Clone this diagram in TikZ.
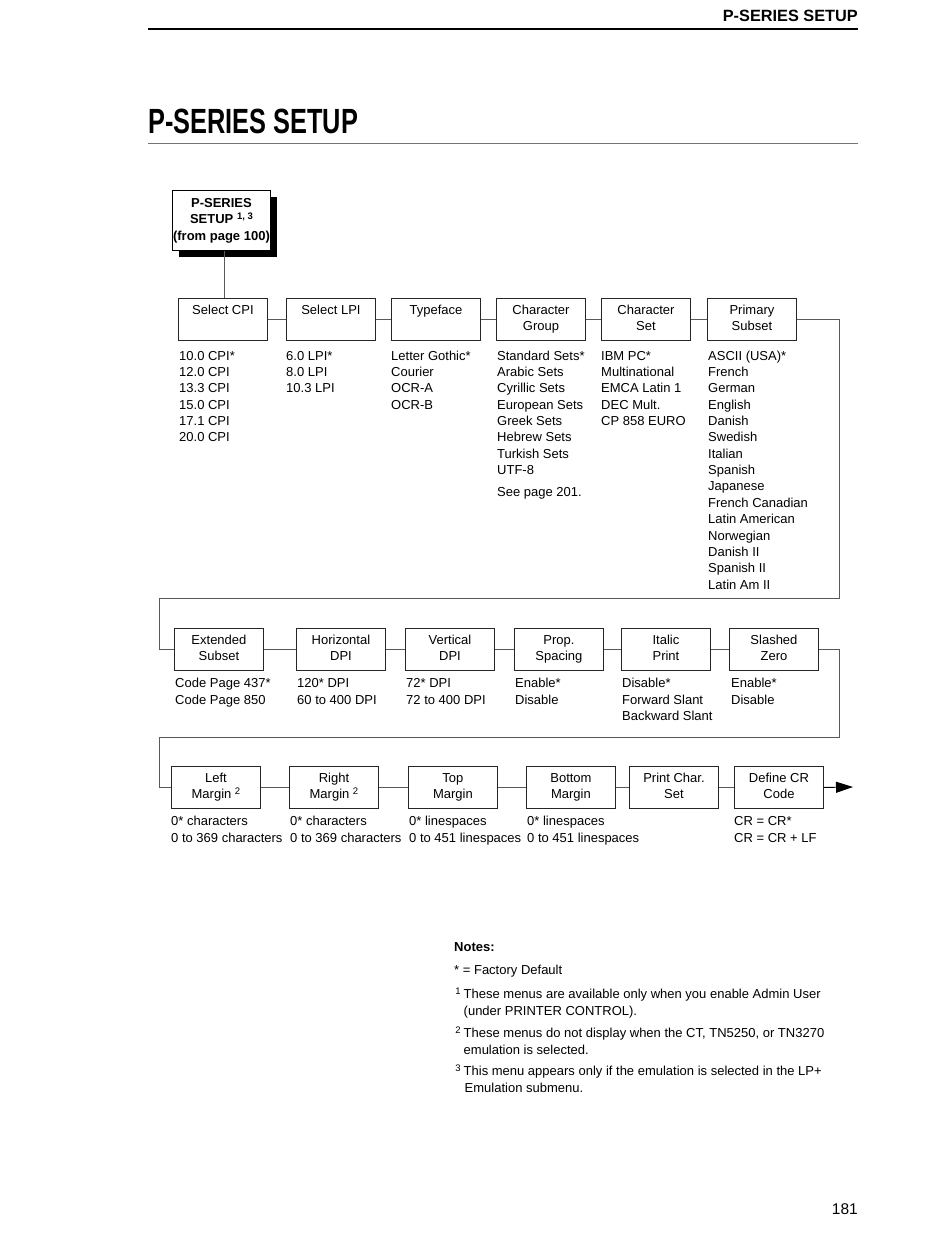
\documentclass[tikz,border=0pt]{standalone}
\usepackage{fontspec}
\setmainfont{Liberation Sans}
\usetikzlibrary{arrows.meta,shadows}
\newcommand{\fs}{\fontsize{13}{16.35}\selectfont}
\newcommand{\two}[2]{\strut#1\\\strut#2}
\newcommand{\sups}[1]{\raisebox{4.2pt}{\fontsize{9.5}{10}\selectfont #1}}
\begin{document}
\begin{tikzpicture}[x=1pt,y=-1pt,
  menubox/.style={draw=black!85, line width=0.9pt, minimum width=89pt, minimum height=42pt, inner sep=0pt, align=center, font=\fs, anchor=north west},
  vals/.style={inner sep=0pt, align=left, font=\fs, anchor=north west},
  link/.style={draw=black!65, line width=0.9pt},
  rulestyle/.style={line width=1.8pt}]
\useasboundingbox (0,0) rectangle (950,1250);

% header
\node[anchor=base east, inner sep=0pt, font=\fontsize{16.3}{18}\selectfont\bfseries] (hdr) at (858,21.5) {P-SERIES SETUP};
\coordinate (hl) at (148,29); \coordinate (hr) at (858,29);
\draw[rulestyle] (hl) -- (hr);

% title
\node[anchor=base west, inner sep=0pt] (title) at (148,133) {\scalebox{0.724}[1]{\fontsize{35}{40}\selectfont\bfseries P-SERIES SETUP}};
\coordinate (tl) at (148,143); \coordinate (tr) at (858,143);
\draw[draw=black!55, line width=0.9pt] (tl) -- (tr);

% top box
\node[draw=black, line width=0.9pt, fill=white, minimum width=98pt, minimum height=60pt, inner sep=0pt, align=center,
  font=\fontsize{13}{16.5}\selectfont\bfseries, anchor=north west,
  drop shadow={shadow xshift=7pt, shadow yshift=-7pt, fill=black, opacity=1}] (ps) at (172,190)
  {P-SERIES\\SETUP \sups{\bfseries 1, 3}\\(from page 100)};

% row 1
\node[menubox] (cpi)  at (178,298) {\two{Select CPI}{}};
\node[menubox] (lpi)  at (286,298) {\two{Select LPI}{}};
\node[menubox] (tf)   at (391,298) {\two{Typeface}{}};
\node[menubox] (cg)   at (496,298) {\two{Character}{Group}};
\node[menubox] (cs)   at (601,298) {\two{Character}{Set}};
\node[menubox] (psub) at (707,298) {\two{Primary}{Subset}};

\draw[link] ([xshift=3pt]ps.south) -- ([xshift=3pt]ps.south |- cpi.north);
\draw[link] (cpi) -- (lpi);
\draw[link] (lpi) -- (tf);
\draw[link] (tf) -- (cg);
\draw[link] (cg) -- (cs);
\draw[link] (cs) -- (psub);

\node[vals] (v1) at (179,348.5) {\strut 10.0 CPI*\\12.0 CPI\\13.3 CPI\\15.0 CPI\\17.1 CPI\\20.0 CPI};
\node[vals] (v2) at (286,348.5) {\strut 6.0 LPI*\\8.0 LPI\\10.3 LPI};
\node[vals] (v3) at (391,348.5) {\strut Letter Gothic*\\Courier\\OCR-A\\OCR-B};
\node[vals] (v4) at (497,348.5) {\strut Standard Sets*\\Arabic Sets\\Cyrillic Sets\\European Sets\\Greek Sets\\Hebrew Sets\\Turkish Sets\\UTF-8\\[5.7pt]See page 201.};
\node[vals] (v5) at (601,348.5) {\strut IBM PC*\\Multinational\\EMCA Latin 1\\DEC Mult.\\CP 858 EURO};
\node[vals] (v6) at (708,348.5) {\strut ASCII (USA)*\\French\\German\\English\\Danish\\Swedish\\Italian\\Spanish\\Japanese\\French Canadian\\Latin American\\Norwegian\\Danish II\\Spanish II\\Latin Am II};

% row 2
\node[menubox] (ext)  at (174,628) {\two{Extended}{Subset}};
\node[menubox] (hdpi) at (296,628) {\two{Horizontal}{DPI}};
\node[menubox] (vdpi) at (405,628) {\two{Vertical}{DPI}};
\node[menubox] (prop) at (514,628) {\two{Prop.}{Spacing}};
\node[menubox] (ital) at (621,628) {\two{Italic}{Print}};
\node[menubox] (slz)  at (729,628) {\two{Slashed}{Zero}};

\coordinate (r1) at (839,598); \coordinate (l1) at (159,598);
\draw[link] (psub.east) -| (r1) -- (l1) |- (ext.west);
\draw[link] (ext) -- (hdpi);
\draw[link] (hdpi) -- (vdpi);
\draw[link] (vdpi) -- (prop);
\draw[link] (prop) -- (ital);
\draw[link] (ital) -- (slz);

\node[vals] (w1) at (175,676.2) {\strut Code Page 437*\\Code Page 850};
\node[vals] (w2) at (297,676.2) {\strut 120* DPI\\60 to 400 DPI};
\node[vals] (w3) at (406,676.2) {\strut 72* DPI\\72 to 400 DPI};
\node[vals] (w4) at (515,676.2) {\strut Enable*\\Disable};
\node[vals] (w5) at (622,676.2) {\strut Disable*\\Forward Slant\\Backward Slant};
\node[vals] (w6) at (731,676.2) {\strut Enable*\\Disable};

% row 3
\node[menubox] (lm)  at (171,766) {\two{Left}{Margin \sups{2}}};
\node[menubox] (rm)  at (289,766) {\two{Right}{Margin \sups{2}}};
\node[menubox] (tm)  at (408,766) {\two{Top}{Margin}};
\node[menubox] (bm)  at (526,766) {\two{Bottom}{Margin}};
\node[menubox] (pcs) at (629,766) {\two{Print Char.}{Set}};
\node[menubox] (dcr) at (734,766) {\two{Define CR}{Code}};

\coordinate (r2) at (839,737); \coordinate (l2) at (159,737);
\draw[link] (slz.east) -| (r2) -- (l2) |- (lm.west);
\draw[link] (lm) -- (rm);
\draw[link] (rm) -- (tm);
\draw[link] (tm) -- (bm);
\draw[link] (bm) -- (pcs);
\draw[link] (pcs) -- (dcr);
\coordinate (aend) at (853,787);
\draw[link, -{Triangle[length=17pt,width=11pt]}, draw=black] (dcr.east) -- (aend);

\node[vals] (x1) at (171,814.2) {\strut 0* characters\\0 to 369 characters};
\node[vals] (x2) at (290,814.2) {\strut 0* characters\\0 to 369 characters};
\node[vals] (x3) at (409,814.2) {\strut 0* linespaces\\0 to 451 linespaces};
\node[vals] (x4) at (527,814.2) {\strut 0* linespaces\\0 to 451 linespaces};
\node[vals] (x6) at (734,814.2) {\strut CR = CR*\\CR = CR + LF};

% notes
\node[anchor=base west, inner sep=0pt, font=\fs\bfseries] (notes) at (454,951.5) {Notes:};
\node[anchor=base west, inner sep=0pt, font=\fs] (n0) at (454,974.5) {* = Factory Default};
\node[vals] (n1) at (463.5,987.05) {\strut\llap{\sups{1}\hspace{3pt}}These menus are available only when you enable Admin User\\(under PRINTER CONTROL).};
\node[vals] (n2) at (463.5,1026.05) {\strut\llap{\sups{2}\hspace{3pt}}These menus do not display when the CT, TN5250, or TN3270\\emulation is selected.};
\node[vals] (n3) at (463.5,1064.05) {\strut\llap{\sups{3}\hspace{3pt}}This menu appears only if the emulation is selected in the LP+\\\hspace*{1pt}Emulation submenu.};

% page number
\node[anchor=base east, inner sep=0pt, font=\fontsize{15.5}{18}\selectfont] (pg) at (858,1214.5) {181};
\end{tikzpicture}
\end{document}
